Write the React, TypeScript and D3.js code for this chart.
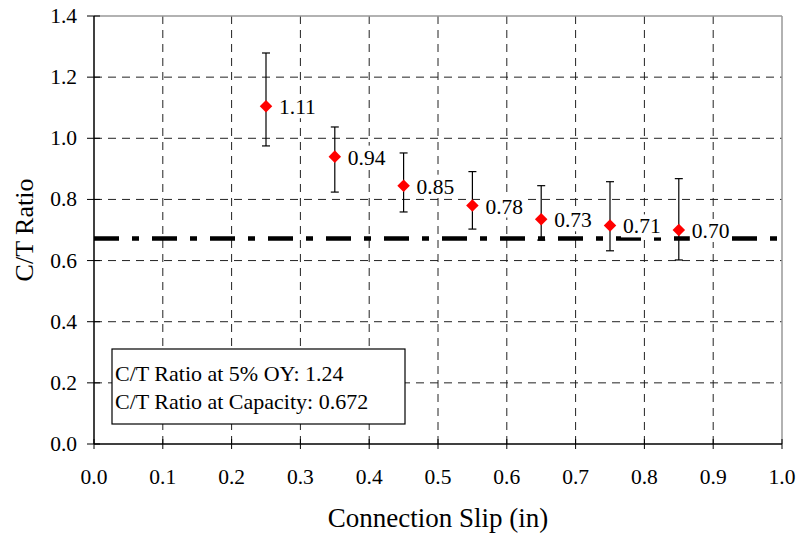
import React from 'react';
import * as d3 from 'd3';

const width = 797;
const height = 535;
const margin = { top: 16, right: 15, bottom: 91, left: 94 };

const slip = [0.25, 0.35, 0.45, 0.55, 0.65, 0.75, 0.85];
const ratio = [1.105, 0.94, 0.845, 0.78, 0.735, 0.715, 0.70];
const ratioLabels = ['1.11', '0.94', '0.85', '0.78', '0.73', '0.71', '0.70'];
const errTop = [1.279, 1.037, 0.952, 0.891, 0.845, 0.858, 0.868];
const errBottom = [0.975, 0.824, 0.759, 0.703, 0.667, 0.632, 0.602];
const capacity = 0.672;
const xTicks = [0, 0.1, 0.2, 0.3, 0.4, 0.5, 0.6, 0.7, 0.8, 0.9, 1.0];
const yTicks = [0, 0.2, 0.4, 0.6, 0.8, 1.0, 1.2, 1.4];
const noteLines = ['C/T Ratio at 5% OY: 1.24', 'C/T Ratio at Capacity: 0.672'];

const font = '"Liberation Serif", "Times New Roman", serif';

export default function App() {
    const x = d3.scaleLinear().domain([0, 1]).range([margin.left, width - margin.right]);
    const y = d3.scaleLinear().domain([0, 1.4]).range([height - margin.bottom, margin.top]);
    const x0 = x(0), x1 = x(1), y0 = y(0), y1 = y(1.4);
    const diamond = d3.symbol().type(d3.symbolDiamond2).size(100)();

    return (
        <svg width={width} height={height} style={{ position: 'absolute', left: 0, top: 0, fontFamily: font }}>
            <rect width={width} height={height} fill="#fff" />

            {/* grid */}
            {xTicks.slice(1, -1).map(t => (
                <line key={'gx' + t} x1={x(t)} x2={x(t)} y1={y0} y2={y1}
                      stroke="#222" strokeWidth={1} strokeDasharray="8,6" />
            ))}
            {yTicks.slice(1, -1).map(t => (
                <line key={'gy' + t} x1={x0} x2={x1} y1={y(t)} y2={y(t)}
                      stroke="#222" strokeWidth={1} strokeDasharray="8,6" />
            ))}

            {/* frame */}
            <line x1={x0} x2={x1} y1={y1} y2={y1} stroke="#999" strokeWidth={1.5} />
            <line x1={x1} x2={x1} y1={y1} y2={y0} stroke="#999" strokeWidth={1.5} />

            {/* capacity line */}
            <line x1={x0} x2={x1} y1={y(capacity)} y2={y(capacity)}
                  stroke="#000" strokeWidth={4.5} strokeDasharray="25,13,7,13" />

            {/* error bars */}
            {slip.map((s, i) => (
                <g key={'e' + i} stroke="#000" strokeWidth={1.2}>
                    <line x1={x(s)} x2={x(s)} y1={y(errTop[i])} y2={y(errBottom[i])} />
                    <line x1={x(s) - 4} x2={x(s) + 4} y1={y(errTop[i])} y2={y(errTop[i])} />
                    <line x1={x(s) - 4} x2={x(s) + 4} y1={y(errBottom[i])} y2={y(errBottom[i])} />
                </g>
            ))}

            {/* labels */}
            {slip.map((s, i) => (
                <g key={'l' + i}>
                    <rect x={x(s) + 11} y={y(ratio[i]) - 11} width={42} height={23} fill="#fff" />
                    <text x={x(s) + 13} y={y(ratio[i]) + 8} fontSize={21.5}>{ratioLabels[i]}</text>
                </g>
            ))}

            {/* points */}
            {slip.map((s, i) => (
                <path key={'p' + i} d={diamond} transform={`translate(${x(s)},${y(ratio[i])})`} fill="#ff0000" />
            ))}

            {/* axes */}
            <line x1={x0} x2={x0} y1={y0} y2={y1} stroke="#000" strokeWidth={1.5} />
            <line x1={x0} x2={x1} y1={y0} y2={y0} stroke="#000" strokeWidth={1.5} />
            {yTicks.map(t => (
                <g key={'yt' + t}>
                    <line x1={x0 - 7} x2={x0 + 6} y1={y(t)} y2={y(t)} stroke="#000" strokeWidth={1} />
                    <text x={x0 - 17} y={y(t) + 7} fontSize={21.5} textAnchor="end">{t.toFixed(1)}</text>
                </g>
            ))}
            {xTicks.map(t => (
                <g key={'xt' + t}>
                    <line x1={x(t)} x2={x(t)} y1={y0 - 5} y2={y0 + 5} stroke="#000" strokeWidth={1} />
                    <text x={x(t)} y={y0 + 40} fontSize={21.5} textAnchor="middle">{t.toFixed(1)}</text>
                </g>
            ))}

            {/* note box */}
            <rect x={112} y={349} width={293} height={75} fill="#fff" stroke="#000" strokeWidth={1.2} />
            {noteLines.map((t, i) => (
                <text key={'n' + i} x={115} y={381 + i * 28} fontSize={22}>{t}</text>
            ))}

            {/* titles */}
            <text x={(x0 + x1) / 2} y={527} fontSize={27} textAnchor="middle">Connection Slip (in)</text>
            <text transform={`translate(33,${(y0 + y1) / 2}) rotate(-90)`} fontSize={26} textAnchor="middle">C/T Ratio</text>
        </svg>
    );
}
